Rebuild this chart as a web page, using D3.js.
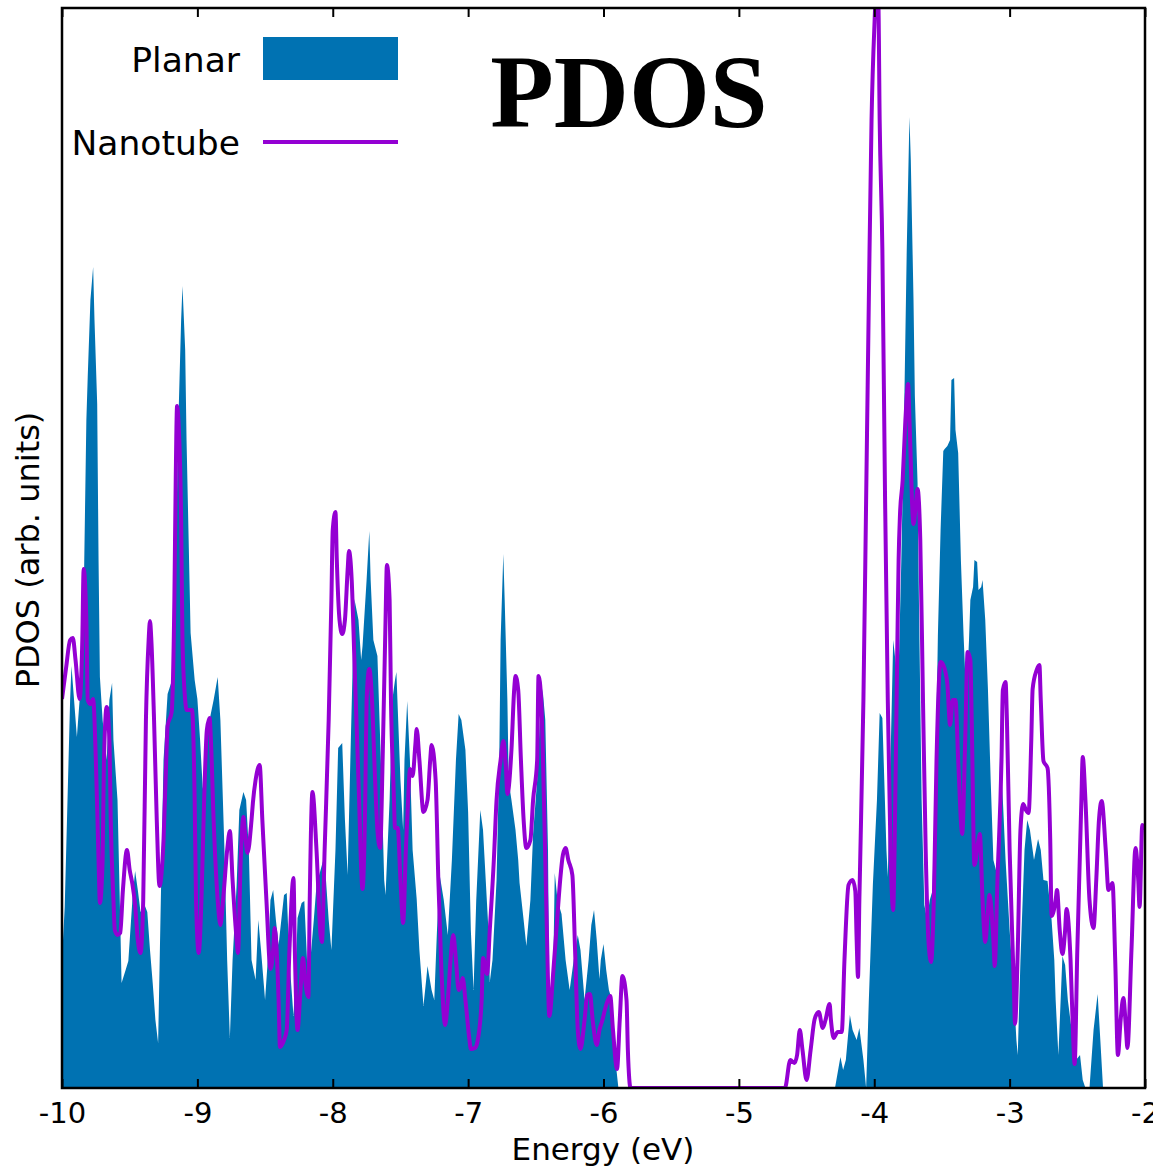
<!DOCTYPE html>
<html>
<head>
<meta charset="utf-8">
<script src="https://cdn.jsdelivr.net/npm/d3@7"></script>
<style>
  html, body { margin: 0; padding: 0; background: #ffffff; }
  svg { display: block; }
</style>
</head>
<body>
<svg id="chart" width="1153" height="1166"></svg>
<script>
// ---------- DATA (energy in eV, PDOS in arbitrary units) ----------
const planarE = [-10.00,-9.98,-9.94,-9.93,-9.89,-9.87,-9.84,-9.82,-9.81,-9.79,-9.77,-9.76,-9.74,-9.73,-9.72,-9.70,-9.67,-9.65,-9.63,-9.62,-9.59,-9.57,-9.56,-9.53,-9.51,-9.48,-9.46,-9.44,-9.42,-9.39,-9.37,-9.35,-9.33,-9.31,-9.29,-9.27,-9.25,-9.22,-9.18,-9.16,-9.14,-9.12,-9.11,-9.09,-9.08,-9.05,-9.02,-9.00,-8.98,-8.96,-8.94,-8.91,-8.88,-8.85,-8.83,-8.80,-8.78,-8.76,-8.74,-8.71,-8.69,-8.66,-8.64,-8.62,-8.60,-8.57,-8.55,-8.53,-8.50,-8.48,-8.46,-8.44,-8.42,-8.40,-8.38,-8.36,-8.34,-8.32,-8.29,-8.27,-8.26,-8.23,-8.21,-8.18,-8.17,-8.14,-8.12,-8.09,-8.07,-8.05,-8.03,-8.01,-7.98,-7.96,-7.93,-7.91,-7.89,-7.87,-7.85,-7.84,-7.81,-7.79,-7.78,-7.75,-7.73,-7.72,-7.70,-7.67,-7.64,-7.62,-7.61,-7.58,-7.56,-7.54,-7.53,-7.50,-7.48,-7.47,-7.45,-7.43,-7.41,-7.38,-7.36,-7.33,-7.31,-7.30,-7.27,-7.25,-7.23,-7.21,-7.18,-7.15,-7.12,-7.09,-7.07,-7.05,-7.02,-7.00,-6.98,-6.96,-6.94,-6.91,-6.89,-6.88,-6.85,-6.84,-6.82,-6.79,-6.77,-6.76,-6.74,-6.73,-6.71,-6.70,-6.68,-6.65,-6.63,-6.62,-6.59,-6.57,-6.54,-6.52,-6.49,-6.47,-6.45,-6.43,-6.41,-6.40,-6.37,-6.36,-6.34,-6.31,-6.28,-6.25,-6.22,-6.19,-6.17,-6.14,-6.11,-6.09,-6.07,-6.05,-6.03,-6.02,-6.00,-5.98,-5.96,-5.94,-5.92,-5.89,-4.29,-4.25,-4.23,-4.21,-4.18,-4.16,-4.13,-4.11,-4.08,-4.06,-4.04,-4.01,-3.98,-3.96,-3.94,-3.91,-3.90,-3.88,-3.86,-3.84,-3.82,-3.80,-3.78,-3.76,-3.74,-3.73,-3.71,-3.70,-3.68,-3.67,-3.65,-3.63,-3.61,-3.59,-3.57,-3.54,-3.53,-3.51,-3.49,-3.48,-3.46,-3.44,-3.43,-3.41,-3.40,-3.38,-3.36,-3.34,-3.32,-3.30,-3.29,-3.27,-3.26,-3.24,-3.23,-3.21,-3.20,-3.18,-3.16,-3.14,-3.12,-3.09,-3.07,-3.05,-3.03,-3.00,-2.97,-2.95,-2.94,-2.92,-2.89,-2.87,-2.85,-2.82,-2.79,-2.77,-2.75,-2.72,-2.69,-2.67,-2.66,-2.64,-2.62,-2.61,-2.59,-2.57,-2.54,-2.51,-2.48,-2.46,-2.44,-2.41,-2.38,-2.35,-2.33,-2.31,-2.00];
const planarV = [1.28,1.81,3.88,4.22,3.51,3.88,4.88,6.68,7.11,7.88,8.21,7.68,6.84,5.28,4.11,3.68,3.28,3.88,4.05,3.48,2.88,1.68,1.05,1.18,1.27,1.88,2.17,1.98,1.76,1.83,1.76,1.38,1.05,0.68,0.45,1.88,3.28,3.94,4.11,5.28,6.68,7.68,8.02,7.38,6.48,4.55,4.08,3.89,3.48,2.99,3.28,3.68,3.88,4.11,3.68,2.38,1.28,0.50,1.28,2.03,2.78,2.96,2.88,2.38,1.28,1.08,1.68,1.38,0.88,1.28,1.88,1.98,1.68,1.43,1.68,1.93,1.95,1.28,0.72,1.28,1.70,1.85,1.87,0.98,1.21,1.68,2.03,2.18,2.28,2.08,1.68,1.38,2.38,3.40,3.45,2.68,2.13,3.28,4.38,4.89,4.68,4.28,4.42,5.08,5.57,5.08,4.48,4.32,3.08,2.08,1.93,2.88,3.88,4.08,4.16,3.08,2.58,3.28,3.87,3.28,2.38,1.89,1.38,0.82,1.08,1.22,0.98,0.88,1.58,2.13,1.88,1.53,2.28,3.28,3.74,3.68,3.38,2.76,1.58,0.98,1.88,2.78,2.58,2.33,1.58,1.06,1.28,2.08,3.28,4.48,5.34,4.88,3.88,3.06,2.88,2.58,2.28,2.05,1.68,1.42,1.88,2.54,3.08,3.68,3.99,3.68,2.38,0.78,1.28,2.15,1.88,1.74,1.28,0.98,1.28,1.53,1.38,0.88,1.28,1.63,1.78,1.48,1.09,1.28,1.44,1.18,0.98,0.89,0.38,0,0,0.31,0.18,0.28,0.73,0.58,0.48,0.60,0.28,0,0.88,2.04,2.88,3.75,3.70,2.38,2.11,3.28,4.48,4.23,4.16,5.28,6.68,8.38,9.71,9.28,7.88,6.92,6.05,4.88,2.88,1.83,1.69,1.88,1.97,3.68,4.52,5.58,6.37,6.39,6.42,6.48,7.08,7.10,6.58,6.35,5.28,4.52,3.88,4.48,4.88,5.01,5.28,5.26,4.98,5.01,5.08,4.68,3.98,3.08,2.28,2.12,3.38,2.88,2.28,1.58,0.98,0.48,0.33,1.28,2.38,2.68,2.58,2.28,2.49,2.38,2.08,2.07,1.68,1.28,0.88,0.33,0.98,1.32,1.23,0.88,0.56,0.28,0.33,0.08,0,0,0.58,0.94,0.48,0,0];

const nanoE = [-10.00,-9.97,-9.94,-9.92,-9.90,-9.87,-9.85,-9.84,-9.82,-9.81,-9.79,-9.77,-9.75,-9.73,-9.72,-9.70,-9.69,-9.67,-9.65,-9.64,-9.62,-9.61,-9.59,-9.57,-9.55,-9.52,-9.50,-9.48,-9.46,-9.44,-9.42,-9.40,-9.38,-9.36,-9.35,-9.34,-9.32,-9.30,-9.28,-9.25,-9.23,-9.22,-9.19,-9.17,-9.16,-9.15,-9.14,-9.12,-9.11,-9.09,-9.08,-9.04,-9.02,-9.01,-8.99,-8.97,-8.95,-8.93,-8.91,-8.90,-8.88,-8.85,-8.83,-8.81,-8.78,-8.76,-8.74,-8.71,-8.70,-8.68,-8.66,-8.65,-8.63,-8.60,-8.59,-8.57,-8.54,-8.52,-8.49,-8.46,-8.44,-8.43,-8.40,-8.39,-8.36,-8.34,-8.32,-8.29,-8.28,-8.26,-8.24,-8.22,-8.20,-8.18,-8.17,-8.15,-8.12,-8.09,-8.08,-8.06,-8.03,-8.01,-8.00,-7.98,-7.97,-7.95,-7.93,-7.91,-7.89,-7.88,-7.86,-7.84,-7.81,-7.78,-7.76,-7.75,-7.73,-7.71,-7.69,-7.67,-7.65,-7.63,-7.61,-7.60,-7.58,-7.57,-7.55,-7.54,-7.52,-7.50,-7.48,-7.46,-7.44,-7.43,-7.41,-7.39,-7.38,-7.36,-7.33,-7.30,-7.28,-7.27,-7.24,-7.22,-7.20,-7.17,-7.15,-7.13,-7.11,-7.09,-7.07,-7.05,-7.04,-7.02,-6.99,-6.98,-6.95,-6.93,-6.90,-6.89,-6.86,-6.84,-6.81,-6.79,-6.76,-6.74,-6.72,-6.71,-6.68,-6.66,-6.65,-6.63,-6.61,-6.59,-6.57,-6.54,-6.52,-6.49,-6.48,-6.46,-6.44,-6.42,-6.40,-6.37,-6.34,-6.32,-6.30,-6.28,-6.26,-6.23,-6.21,-6.19,-6.17,-6.14,-6.12,-6.10,-6.08,-6.05,-6.03,-6.01,-5.98,-5.95,-5.93,-5.90,-5.88,-5.86,-5.83,-5.82,-5.80,-4.66,-4.62,-4.59,-4.57,-4.55,-4.53,-4.50,-4.47,-4.44,-4.41,-4.38,-4.36,-4.33,-4.32,-4.30,-4.27,-4.24,-4.22,-4.19,-4.16,-4.14,-4.13,-4.12,-4.11,-4.08,-4.06,-4.04,-4.02,-4.00,-3.99,-3.97,-3.96,-3.94,-3.92,-3.90,-3.88,-3.86,-3.85,-3.83,-3.82,-3.81,-3.79,-3.77,-3.75,-3.74,-3.71,-3.69,-3.68,-3.66,-3.64,-3.62,-3.60,-3.58,-3.56,-3.54,-3.51,-3.49,-3.46,-3.44,-3.42,-3.40,-3.38,-3.35,-3.33,-3.31,-3.29,-3.28,-3.26,-3.23,-3.22,-3.20,-3.18,-3.16,-3.15,-3.12,-3.11,-3.09,-3.06,-3.05,-3.03,-3.02,-3.00,-2.97,-2.96,-2.94,-2.92,-2.90,-2.88,-2.86,-2.84,-2.83,-2.80,-2.78,-2.77,-2.75,-2.72,-2.70,-2.69,-2.66,-2.65,-2.63,-2.61,-2.59,-2.58,-2.55,-2.53,-2.52,-2.50,-2.47,-2.46,-2.44,-2.41,-2.38,-2.36,-2.34,-2.32,-2.29,-2.27,-2.24,-2.22,-2.20,-2.18,-2.16,-2.14,-2.13,-2.10,-2.07,-2.05,-2.04,-2.02,-2.00];
const nanoV = [3.89,4.20,4.48,4.50,4.28,3.89,4.48,5.19,4.68,3.88,3.84,3.89,3.28,2.28,1.85,2.28,3.28,3.81,3.48,2.68,1.88,1.58,1.53,1.55,1.98,2.38,2.18,2.04,1.83,1.48,1.35,1.88,3.68,4.48,4.67,4.48,3.68,2.68,2.02,2.48,3.28,3.62,3.76,4.88,6.08,6.82,6.68,5.68,4.48,3.88,3.78,3.78,2.88,1.88,1.35,1.88,2.88,3.58,3.70,3.48,2.68,1.88,1.63,1.88,2.38,2.57,2.08,1.48,1.35,2.28,2.71,2.58,2.35,2.68,2.85,3.08,3.23,2.68,1.88,1.19,1.38,1.60,0.88,0.41,0.48,0.58,1.38,2.10,1.38,0.58,0.94,1.30,1.03,0.91,1.88,2.96,2.38,1.53,1.46,2.38,3.68,4.88,5.58,5.76,5.28,4.68,4.54,4.68,5.18,5.37,5.08,4.28,3.08,1.99,2.88,3.88,4.19,3.88,3.18,2.58,2.40,3.38,4.68,5.23,4.88,3.88,2.98,2.60,2.60,2.08,1.65,2.38,2.98,3.19,3.12,3.43,3.59,3.28,2.76,2.88,3.28,3.43,3.08,2.08,1.28,0.63,0.88,1.28,1.53,1.28,0.98,1.03,1.10,0.88,0.48,0.39,0.40,0.47,0.88,1.30,1.14,1.58,2.28,2.88,3.28,3.47,3.18,2.94,3.38,3.98,4.12,3.98,3.28,2.68,2.40,2.48,2.88,3.28,4.12,3.88,2.88,1.68,0.72,1.18,1.73,2.08,2.33,2.40,2.28,2.13,1.38,0.58,0.39,0.68,0.93,0.94,0.68,0.43,0.58,0.67,0.83,0.92,0.58,0.19,0.68,1.12,0.88,0.38,0,0,0.28,0.25,0.33,0.58,0.38,0.08,0.38,0.69,0.76,0.60,0.68,0.84,0.68,0.50,0.56,0.56,1.28,2.03,2.08,1.97,1.48,1.11,1.88,3.88,5.88,7.88,9.68,10.58,10.85,10.85,9.68,8.38,5.88,3.88,2.38,1.78,2.38,4.38,5.28,5.73,6.08,6.68,7.04,6.68,5.64,5.88,5.99,5.48,3.88,2.38,1.48,1.26,1.88,3.28,4.26,4.23,4.04,3.63,3.88,3.88,3.28,2.54,3.38,4.36,4.28,3.68,2.23,2.48,2.54,1.88,1.46,1.78,1.93,1.48,1.22,2.08,3.28,3.98,4.06,3.68,2.38,1.08,0.64,1.38,2.58,2.84,2.78,2.75,3.48,3.99,4.18,4.23,3.88,3.27,3.20,2.48,1.72,1.88,1.98,1.58,1.34,1.58,1.79,1.28,0.48,0.24,1.38,2.88,3.31,2.88,1.88,1.60,2.08,2.68,2.87,2.38,1.98,2.05,1.28,0.33,0.68,0.90,0.58,0.40,1.38,2.40,2.08,1.81,2.63,2.58];

const xTicks = [-10,-9,-8,-7,-6,-5,-4,-3,-2];
const xTickLabels = ["-10","-9","-8","-7","-6","-5","-4","-3","-2"];
const seriesNames = ["Planar","Nanotube"];
const seriesColors = ["#0072b2","#9400d3"];

// ---------- LAYOUT ----------
const svg = d3.select("#chart");
const L = 62, R = 1145, T = 8, B = 1088;

const x = d3.scaleLinear().domain([-10, -2]).range([L, R]);
const y = d3.scaleLinear().domain([0, 10.8]).range([B, T]);

svg.append("defs").append("clipPath").attr("id","plotclip")
  .append("rect").attr("x", L).attr("y", T).attr("width", R - L).attr("height", B - T);

const planar = planarE.map((e,i)=>({e, v: planarV[i]}));
const nano = nanoE.map((e,i)=>({e, v: nanoV[i]}));

const g = svg.append("g").attr("clip-path","url(#plotclip)");

g.append("path")
  .datum(planar)
  .attr("fill", seriesColors[0])
  .attr("d", d3.area().x(d=>x(d.e)).y0(y(0)).y1(d=>y(d.v)).curve(d3.curveLinear));

g.append("path")
  .datum(nano)
  .attr("fill","none")
  .attr("stroke", seriesColors[1])
  .attr("stroke-width", 4)
  .attr("stroke-linejoin","round")
  .attr("d", d3.line().x(d=>x(d.e)).y(d=>y(d.v)).curve(d3.curveMonotoneX));

// ---------- AXES ----------
const xAxisB = d3.axisBottom(x).tickValues(xTicks).tickSize(-9).tickPadding(14)
  .tickFormat((d,i)=>xTickLabels[i]);
const gb = svg.append("g").attr("transform", `translate(0,${B})`).call(xAxisB);
gb.select(".domain").remove();
gb.selectAll(".tick line").attr("stroke","#000").attr("stroke-width",2);
gb.selectAll(".tick text").attr("font-family","DejaVu Sans, sans-serif").attr("font-size",29).attr("fill","#000");

const xAxisT = d3.axisTop(x).tickValues(xTicks).tickSize(-9).tickFormat("");
const gt = svg.append("g").attr("transform", `translate(0,${T})`).call(xAxisT);
gt.select(".domain").remove();
gt.selectAll(".tick line").attr("stroke","#000").attr("stroke-width",2);

// frame
svg.append("rect").attr("x", L).attr("y", T).attr("width", R - L).attr("height", B - T)
  .attr("fill","none").attr("stroke","#000").attr("stroke-width",2.5);

// axis titles
svg.append("text").attr("x", 603).attr("y", 1160).attr("text-anchor","middle")
  .attr("font-family","DejaVu Sans, sans-serif").attr("font-size",31).attr("fill","#000")
  .text("Energy (eV)");
svg.append("text").attr("transform","translate(39,550) rotate(-90)").attr("text-anchor","middle")
  .attr("font-family","DejaVu Sans, sans-serif").attr("font-size",32).attr("fill","#000")
  .text("PDOS (arb. units)");

// ---------- LEGEND ----------
const leg = svg.append("g");
leg.append("text").attr("x", 240).attr("y", 72).attr("text-anchor","end")
  .attr("font-family","DejaVu Sans, sans-serif").attr("font-size",34.5).attr("fill","#000").text(seriesNames[0]);
leg.append("rect").attr("x", 263).attr("y", 37).attr("width", 135).attr("height", 43).attr("fill", seriesColors[0]);
leg.append("text").attr("x", 240).attr("y", 155).attr("text-anchor","end")
  .attr("font-family","DejaVu Sans, sans-serif").attr("font-size",34.5).attr("fill","#000").text(seriesNames[1]);
leg.append("line").attr("x1", 263).attr("x2", 398).attr("y1", 142).attr("y2", 142)
  .attr("stroke", seriesColors[1]).attr("stroke-width", 4);

// ---------- TITLE ----------
svg.append("text").attr("x", 629).attr("y", 127).attr("text-anchor","middle")
  .attr("font-family","Liberation Serif, serif").attr("font-weight","bold").attr("font-size",104).attr("fill","#000")
  .text("PDOS");
</script>
</body>
</html>
